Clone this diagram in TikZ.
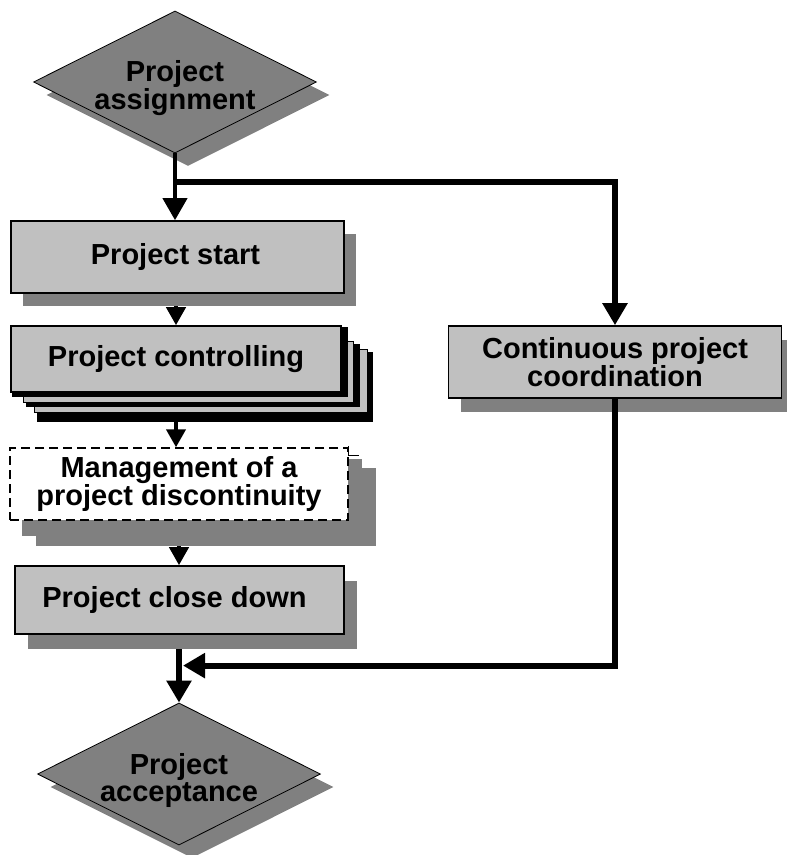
\documentclass[tikz,border=0pt]{standalone}
\usepackage{fontspec}
\setmainfont{Liberation Sans}
\usetikzlibrary{shapes.geometric,arrows.meta,calc,shadows}
\definecolor{boxgray}{HTML}{C0C0C0}
\definecolor{shadegray}{HTML}{808080}
\pgfdeclarelayer{edges}
\pgfdeclarelayer{back}
\pgfsetlayers{edges,back,main}

\begin{document}
\begin{tikzpicture}[x=1pt,y=-1pt,
  bigtip/.tip={Triangle[length=22pt,width=24pt]},
  smalltip/.tip={Triangle[length=18pt,width=19pt]},
  txt/.style={font=\fontsize{29}{27}\selectfont\bfseries, align=center, text=black},
  dropat/.style 2 args={drop shadow={shadow xshift=#1pt, shadow yshift=-#2pt,
      fill=shadegray, opacity=1, draw=none}},
  procbox/.style={txt, rectangle, draw=black, line width=1.6pt, fill=boxgray, inner sep=0pt},
  decision/.style={diamond, aspect=2, draw=black, line width=0.8pt, fill=shadegray,
      inner sep=0pt, minimum width=283pt, minimum height=142pt, dropat={13}{13}},
  inscription/.style={label={[txt, yshift=-6pt]center:#1}},
  stackcopy/.style={draw=black, line width=1.2pt, fill=boxgray},
  flow/.style={line width=4pt},
  heavy/.style={line width=6pt},
]
\useasboundingbox (0,0) rectangle (787,855);

% nodes
\node[decision, inscription={Project\\assignment}] (assign) at (175,82) {};
\node[procbox, minimum width=333pt, minimum height=72pt, dropat={12}{13}] (start) at (177.5,257) {Project start\hspace{4pt}};
\node[procbox, minimum width=330pt, minimum height=66pt] (ctrl) at (176,359) {Project controlling};
\node[procbox, fill=white, line width=1.4pt, dash pattern=on 9pt off 5pt,
      minimum width=338pt, minimum height=72pt] (mgmt) at (179,484) {Management of a\\project discontinuity};
\node[procbox, minimum width=329pt, minimum height=68pt, dropat={13}{15}] (close) at (179.5,600) {Project close down\hspace{10pt}};
\node[procbox, minimum width=333pt, minimum height=72pt, dropat={12}{14}] (cpc) at (615,362) {Continuous project\\coordination};
\node[decision, inscription={Project\\acceptance}] (accept) at (179,774) {};

% stacked copies behind the controlling box
\begin{pgfonlayer}{back}
  \fill[black] ($(ctrl.north west)+(27,27)$) rectangle ($(ctrl.south east)+(31,29)$);
  \filldraw[stackcopy] ($(ctrl.north west)+(24,24)$) rectangle ($(ctrl.south east)+(26,20)$);
  \fill[black] ($(ctrl.north west)+(16,19)$) rectangle ($(ctrl.south east)+(18,14)$);
  \filldraw[stackcopy] ($(ctrl.north west)+(13,16)$) rectangle ($(ctrl.south east)+(12,10)$);
  \fill[black] ($(ctrl.north west)+(2,2)$) rectangle ($(ctrl.south east)+(6,4)$);
  % stepped shadow of the dashed box
  \fill[shadegray] ($(mgmt.north west)+(27,21)$) rectangle ($(mgmt.south east)+(27,25)$);
  \fill[shadegray] ($(mgmt.north west)+(13,12)$) rectangle ($(mgmt.south east)+(13,15)$);
\end{pgfonlayer}
\draw[line width=1.2pt] ($(mgmt.north east)+(0,-1)$) -- ++(0,9) -- ++(10,0);

% junction points
\coordinate (split) at ($(assign.south)+(0,29)$);
\coordinate (join) at ($(accept.north)+(4,-37)$);

% connectors
\draw[flow, -bigtip] (assign.south) -- (assign.south |- start.north);
\draw[heavy, -bigtip] (split) -| (cpc.north);
\draw[heavy, -bigtip] (cpc.south) |- (join);
\begin{pgfonlayer}{edges}
  \draw[flow, -smalltip] (ctrl.north |- start.south) -- (ctrl.north);
  \draw[flow, -smalltip] (ctrl.south) -- (ctrl.south |- mgmt.north);
  \draw[flow, -smalltip] (mgmt.south) -- (mgmt.south |- close.north);
  \draw[heavy, -bigtip] (accept.north |- close.south) -- (accept.north);
\end{pgfonlayer}
\end{tikzpicture}
\end{document}
